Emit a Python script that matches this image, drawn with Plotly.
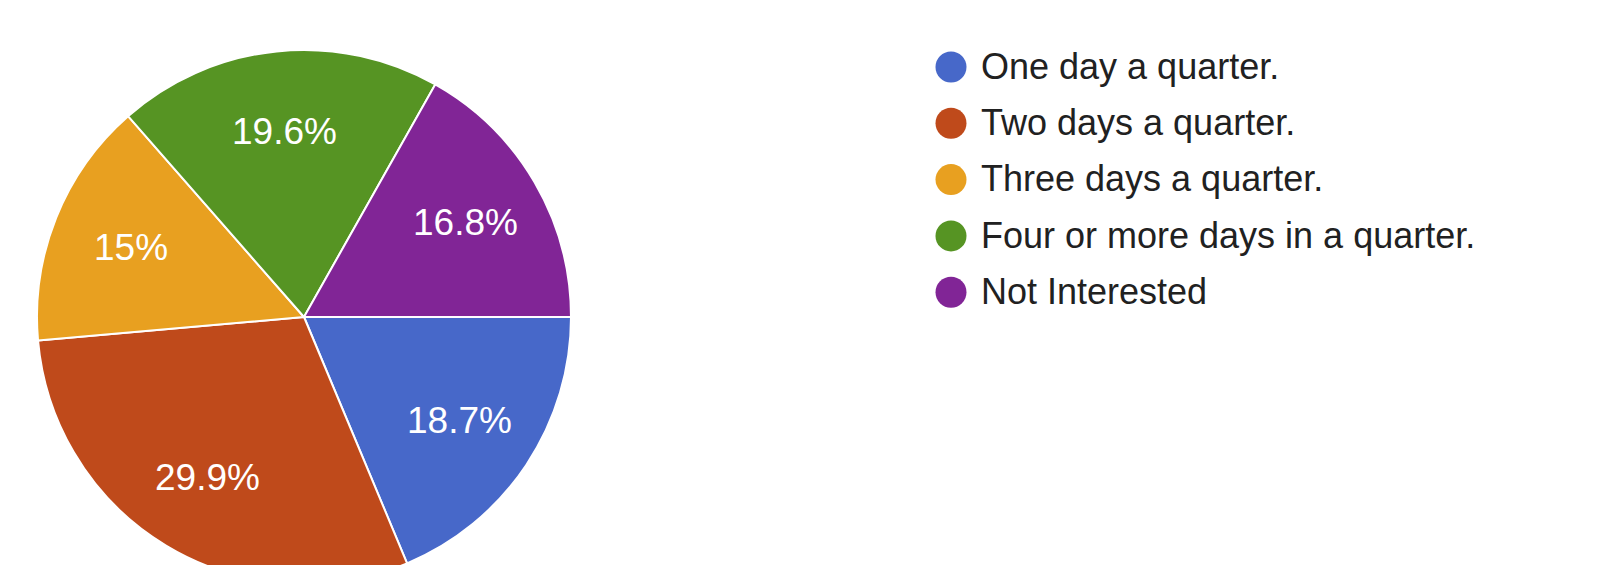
import math
import plotly.graph_objects as go

categories = ["One day a quarter.", "Two days a quarter.", "Three days a quarter.",
              "Four or more days in a quarter.", "Not Interested"]
counts = [20, 32, 16, 21, 18]
colors = ["#4768c9", "#bf4a1b", "#e8a020", "#569423", "#812596"]

W, H = 1612, 600          # figure is taller than the 565px window: pie is cut at the bottom
FONT = "Liberation Sans, Arial, sans-serif"

# pie geometry (pixels)
cx, cy, r = 304, 317, 267
start_deg = 90            # first slice starts at 3 o'clock, clockwise
label_frac = 0.70         # radial position of the percentage labels

fig = go.Figure()

fig.add_trace(go.Pie(
    labels=categories,
    values=counts,
    sort=False,
    direction="clockwise",
    rotation=start_deg,
    marker=dict(colors=colors, line=dict(color="white", width=2)),
    textinfo="none",
    domain=dict(x=[(cx - r) / W, (cx + r) / W],
                y=[(H - cy - r) / H, (H - cy + r) / H]),
    showlegend=False,
    hoverinfo="label+percent",
))

# percentage labels at each slice's mid-angle (derived from the data)
total = sum(counts)
annotations = []
acc = 0
for v in counts:
    mid = math.radians(start_deg + 360 * (acc + v / 2) / total)
    acc += v
    px = cx + label_frac * r * math.sin(mid)
    py = cy - label_frac * r * math.cos(mid)
    pct = round(100 * v / total, 1)
    txt = (f"{pct:.1f}".rstrip("0").rstrip(".")) + "%"
    annotations.append(dict(
        x=px / W, y=1 - py / H, xref="paper", yref="paper",
        text=txt, showarrow=False, xanchor="center", yanchor="middle",
        font=dict(family=FONT, size=37, color="white"),
    ))

# Legend drawn as scatter traces on hidden pixel-scaled axes
legend_idx = list(range(len(categories)))
text_dx = 30
fig.add_trace(go.Scatter(
    x=[0] * len(categories),
    y=legend_idx,
    mode="markers",
    marker=dict(size=31, color=colors),
    showlegend=False,
    hoverinfo="skip",
    cliponaxis=False,
))
fig.add_trace(go.Scatter(
    x=[text_dx] * len(categories),
    y=[i + 0.05 for i in legend_idx],
    mode="text",
    text=categories,
    textposition="middle right",
    textfont=dict(family=FONT, size=36, color="#212121"),
    showlegend=False,
    hoverinfo="text",
    cliponaxis=False,
))

step = 56.3
top = 67
lx = 951
fig.update_layout(
    width=W, height=H,
    margin=dict(l=0, r=0, t=0, b=0),
    paper_bgcolor="white",
    plot_bgcolor="rgba(0,0,0,0)",
    xaxis=dict(range=[-lx, W - lx], visible=False, fixedrange=True),
    yaxis=dict(range=[(H - top) / step, -top / step], visible=False, fixedrange=True),
    font=dict(family=FONT),
    annotations=annotations,
)

fig.write_html(
    "out.html",
    config={"displayModeBar": False},
    post_script="document.body.style.margin='0';"
                "document.body.style.overflow='hidden';"
                "document.documentElement.style.overflow='hidden';",
)
